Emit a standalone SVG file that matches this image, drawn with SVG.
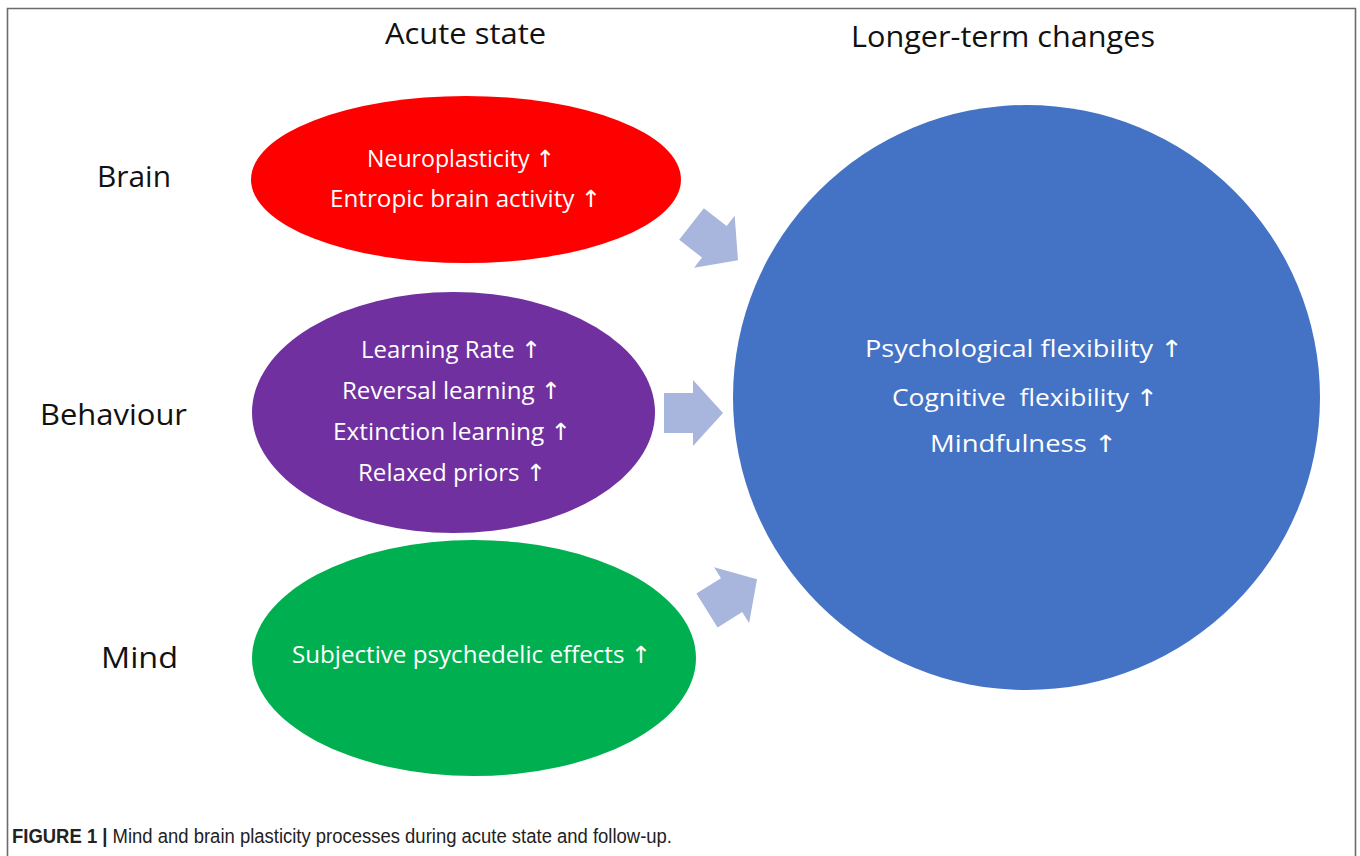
<svg xmlns="http://www.w3.org/2000/svg" width="1360" height="856" viewBox="0 0 1360 856">
  <style>
    .head { font-family: "Open Sans", "Liberation Sans", sans-serif; font-size: 29px; fill: #111; text-anchor: middle; }
    .row { font-family: "Open Sans", "Liberation Sans", sans-serif; font-size: 29px; fill: #111; text-anchor: middle; }
    .in { font-family: "Open Sans", "Liberation Sans", sans-serif; font-size: 23.5px; fill: #fff; text-anchor: middle; }
    .up { font-family: "DejaVu Sans", sans-serif; }
    .cap { font-family: "Liberation Sans Narrow", "Liberation Sans", sans-serif; font-size: 20px; fill: #222; }
    .arrow { fill: #A8B5DC; }
  </style>
  <defs>
    <!-- block arrow pointing right, origin at the tail centre -->
    <path id="blockArrow" d="M0,-20 H29 V-33 L59,0 L29,33 V20 H0 Z"/>
  </defs>

  <rect width="1360" height="856" fill="#fff"/>
  <!-- frame, open at the bottom -->
  <path d="M7.5,856 V8.5 H1355.5 V856" fill="none" stroke="#6b6b6b" stroke-width="1.6"/>

  <!-- column headings -->
  <text class="head" x="465.5" y="44" textLength="161" lengthAdjust="spacingAndGlyphs">Acute state</text>
  <text class="head" x="1003" y="47" textLength="304" lengthAdjust="spacingAndGlyphs">Longer-term changes</text>

  <!-- row labels -->
  <text class="row" x="134" y="187" textLength="74" lengthAdjust="spacingAndGlyphs">Brain</text>
  <text class="row" x="113.5" y="425" textLength="147" lengthAdjust="spacingAndGlyphs">Behaviour</text>
  <text class="row" x="139.5" y="668" textLength="77" lengthAdjust="spacingAndGlyphs">Mind</text>

  <g id="brain">
    <ellipse cx="466" cy="179.5" rx="215" ry="83.5" fill="#FF0000"/>
    <text class="in" x="461" y="167" textLength="188" lengthAdjust="spacingAndGlyphs">Neuroplasticity <tspan class="up">↑</tspan></text>
    <text class="in" x="465.5" y="207" textLength="271" lengthAdjust="spacingAndGlyphs">Entropic brain activity <tspan class="up">↑</tspan></text>
  </g>

  <g id="behaviour">
    <ellipse cx="453.5" cy="412.5" rx="201.5" ry="120.5" fill="#7030A0"/>
    <text class="in" x="451" y="358" textLength="180" lengthAdjust="spacingAndGlyphs">Learning Rate <tspan class="up">↑</tspan></text>
    <text class="in" x="451.5" y="399" textLength="219" lengthAdjust="spacingAndGlyphs">Reversal learning <tspan class="up">↑</tspan></text>
    <text class="in" x="452" y="440" textLength="238" lengthAdjust="spacingAndGlyphs">Extinction learning <tspan class="up">↑</tspan></text>
    <text class="in" x="452" y="481" textLength="188" lengthAdjust="spacingAndGlyphs">Relaxed priors <tspan class="up">↑</tspan></text>
  </g>

  <g id="mind">
    <ellipse cx="474" cy="658" rx="222" ry="118" fill="#00B050"/>
    <text class="in" x="471.5" y="663" textLength="359" lengthAdjust="spacingAndGlyphs">Subjective psychedelic effects <tspan class="up">↑</tspan></text>
  </g>

  <g id="longer-term">
    <ellipse cx="1026.5" cy="397.5" rx="293.5" ry="292.5" fill="#4472C4"/>
    <text class="in" x="1024" y="357" textLength="318" lengthAdjust="spacingAndGlyphs" font-size="25.5">Psychological flexibility <tspan class="up">↑</tspan></text>
    <text class="in" x="1025" y="406" textLength="266" lengthAdjust="spacingAndGlyphs" font-size="25.5">Cognitive&#160; flexibility <tspan class="up">↑</tspan></text>
    <text class="in" x="1023.5" y="452" textLength="187" lengthAdjust="spacingAndGlyphs" font-size="25.5">Mindfulness <tspan class="up">↑</tspan></text>
  </g>

  <g id="connectors" class="arrow">
    <use href="#blockArrow" transform="translate(691.5,224) rotate(38)"/>
    <use href="#blockArrow" transform="translate(664,413)"/>
    <use href="#blockArrow" transform="translate(707,610.5) rotate(-32)"/>
  </g>

  <text class="cap" x="12" y="843" textLength="660" lengthAdjust="spacingAndGlyphs"><tspan font-weight="bold">FIGURE 1 | </tspan>Mind and brain plasticity processes during acute state and follow-up.</text>
</svg>
